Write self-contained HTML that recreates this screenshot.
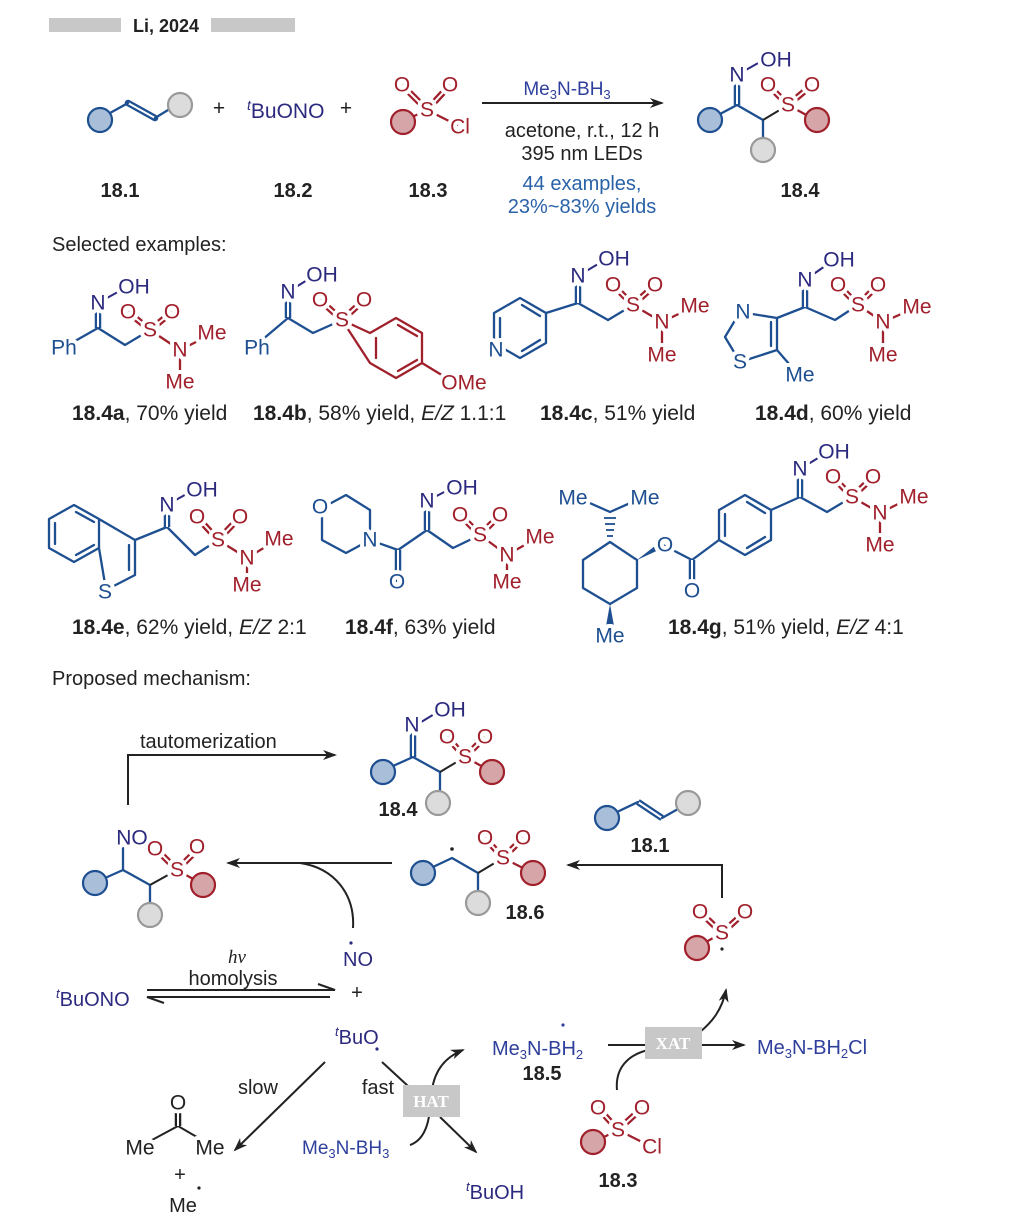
<!DOCTYPE html>
<html><head><meta charset="utf-8"><style>
html,body{margin:0;padding:0;background:#fff}
svg{display:block}
text{font-family:"Liberation Sans",sans-serif}
.a{font-size:21px;text-anchor:middle;dominant-baseline:central;paint-order:stroke;stroke:#fff;stroke-width:8px;stroke-linejoin:round}
.bl{fill:#1d4f91}.rd{fill:#a0202c}.pu{fill:#2c2a7f}.tb{fill:#2f3f9c}
.lab{font-size:20px;fill:#222}
.yl{font-size:21px;fill:#222}
.bold{font-weight:bold}
.B{stroke:#1d4f91;stroke-width:2.3;fill:none;stroke-linecap:round;stroke-linejoin:round}
.R{stroke:#a0202c;stroke-width:2.3;fill:none;stroke-linecap:round;stroke-linejoin:round}
.K{stroke:#222;stroke-width:2;fill:none}
.cb{fill:#a9bed9;stroke:#1d4f91;stroke-width:2.2}
.cr{fill:#d6a5a7;stroke:#a0202c;stroke-width:2.2}
.cg{fill:#dcdcdc;stroke:#999;stroke-width:2.2}
</style></head><body>
<svg width="1036" height="1228" viewBox="0 0 1036 1228" xmlns="http://www.w3.org/2000/svg">
<defs>
<marker id="ah" markerWidth="14" markerHeight="10" refX="12" refY="5" orient="auto" markerUnits="userSpaceOnUse">
<path d="M0,0 L14,5 L0,10 L4,5 Z" fill="#222"/></marker>
</defs>

<!-- header -->
<rect x="49" y="18" width="72" height="14" fill="#c8c8c8"/>
<rect x="211" y="18" width="84" height="14" fill="#c8c8c8"/>
<text x="133" y="32" class="bold" style="font-size:18px;fill:#222">Li, 2024</text>

<!-- 18.1 -->
<line x1="128" y1="103" x2="155" y2="118" stroke="#1d4f91" stroke-width="6.5" stroke-linecap="round"/>
<line x1="128" y1="103" x2="155" y2="118" stroke="#fff" stroke-width="2"/>
<path class="B" d="M110,113 L128,103 M155,118 L168,110"/>
<circle class="cb" cx="100" cy="120" r="12"/>
<circle class="cg" cx="180" cy="105" r="12"/>
<text x="219" y="115" class="lab" style="font-size:21px;text-anchor:middle">+</text>
<text x="247" y="118" class="pu" style="font-size:21px"><tspan font-style="italic" font-size="14" dy="-8">t</tspan><tspan dy="8">BuONO</tspan></text>
<text x="346" y="115" class="lab" style="font-size:21px;text-anchor:middle">+</text>
<!-- 18.3 -->
<g>
<line x1="427" y1="110" x2="402" y2="85" stroke="#a0202c" stroke-width="6.5"/><line x1="427" y1="110" x2="402" y2="85" stroke="#fff" stroke-width="2"/>
<line x1="427" y1="110" x2="450" y2="85" stroke="#a0202c" stroke-width="6.5"/><line x1="427" y1="110" x2="450" y2="85" stroke="#fff" stroke-width="2"/>
<path class="R" d="M410,118 L427,110 L457,125"/>
<circle class="cr" cx="403" cy="122" r="12"/>
<text x="427" y="110" class="a rd">S</text><text x="402" y="85" class="a rd">O</text><text x="450" y="85" class="a rd">O</text><text x="460" y="127" class="a rd">Cl</text>
</g>
<!-- arrow -->
<line x1="482" y1="103" x2="662" y2="103" class="K" marker-end="url(#ah)"/>
<text x="567" y="95" class="tb" style="font-size:19px;text-anchor:middle">Me<tspan font-size="13" dy="4">3</tspan><tspan dy="-4">N-BH</tspan><tspan font-size="13" dy="4">3</tspan></text>
<text x="582" y="137" class="lab" style="text-anchor:middle">acetone, r.t., 12 h</text>
<text x="582" y="160" class="lab" style="text-anchor:middle">395 nm LEDs</text>
<text x="582" y="190" style="font-size:20px;text-anchor:middle;fill:#2a62a8">44 examples,</text>
<text x="582" y="213" style="font-size:20px;text-anchor:middle;fill:#2a62a8">23%~83% yields</text>
<!-- 18.4 product -->
<g>
<line x1="737" y1="105" x2="737" y2="75" stroke="#1d4f91" stroke-width="6.5"/><line x1="737" y1="105" x2="737" y2="75" stroke="#fff" stroke-width="2"/>
<path class="B" d="M720,114 L737,105 L763,120 L763,140"/>
<line x1="763" y1="120" x2="788" y2="105" class="K"/>
<line x1="788" y1="105" x2="768" y2="85" stroke="#a0202c" stroke-width="6.5"/><line x1="788" y1="105" x2="768" y2="85" stroke="#fff" stroke-width="2"/>
<line x1="788" y1="105" x2="812" y2="85" stroke="#a0202c" stroke-width="6.5"/><line x1="788" y1="105" x2="812" y2="85" stroke="#fff" stroke-width="2"/>
<line x1="788" y1="105" x2="810" y2="117" class="R"/>
<line x1="737" y1="75" x2="760" y2="62" stroke="#2c2a7f" stroke-width="2"/>
<circle class="cb" cx="710" cy="120" r="12"/><circle class="cg" cx="763" cy="150" r="12"/><circle class="cr" cx="817" cy="120" r="12"/>
<text x="737" y="75" class="a pu">N</text><text x="776" y="60" class="a pu">OH</text>
<text x="788" y="105" class="a rd">S</text><text x="768" y="85" class="a rd">O</text><text x="812" y="85" class="a rd">O</text>
</g>
<text x="120" y="197" class="lab bold" style="text-anchor:middle">18.1</text>
<text x="293" y="197" class="lab bold" style="text-anchor:middle">18.2</text>
<text x="428" y="197" class="lab bold" style="text-anchor:middle">18.3</text>
<text x="800" y="197" class="lab bold" style="text-anchor:middle">18.4</text>

<text x="52" y="251" class="lab">Selected examples:</text>

<!-- 18.4a -->
<g>
<line x1="98" y1="328" x2="98" y2="303" stroke="#1d4f91" stroke-width="6.5"/><line x1="98" y1="328" x2="98" y2="303" stroke="#fff" stroke-width="2"/>
<path class="B" d="M68,345 L98,328 L125,345 L150,330"/>
<line x1="98" y1="303" x2="125" y2="288" stroke="#2c2a7f" stroke-width="2"/>
<line x1="150" y1="330" x2="128" y2="312" stroke="#a0202c" stroke-width="6.5"/><line x1="150" y1="330" x2="128" y2="312" stroke="#fff" stroke-width="2"/>
<line x1="150" y1="330" x2="172" y2="312" stroke="#a0202c" stroke-width="6.5"/><line x1="150" y1="330" x2="172" y2="312" stroke="#fff" stroke-width="2"/>
<path class="R" d="M150,330 L180,350 L210,335 M180,350 L180,383"/>
<text x="64" y="348" class="a bl">Ph</text><text x="98" y="303" class="a pu">N</text><text x="134" y="287" class="a pu">OH</text>
<text x="150" y="330" class="a rd">S</text><text x="128" y="312" class="a rd">O</text><text x="172" y="312" class="a rd">O</text>
<text x="180" y="350" class="a rd">N</text><text x="212" y="333" class="a rd">Me</text><text x="180" y="382" class="a rd">Me</text>
</g>
<text x="72" y="420" class="yl"><tspan class="bold">18.4a</tspan>, 70% yield</text>

<!-- 18.4b -->
<g>
<line x1="288" y1="318" x2="288" y2="292" stroke="#1d4f91" stroke-width="6.5"/><line x1="288" y1="318" x2="288" y2="292" stroke="#fff" stroke-width="2"/>
<path class="B" d="M262,340 L288,318 L313,333 L342,320"/>
<line x1="288" y1="292" x2="312" y2="277" stroke="#2c2a7f" stroke-width="2"/>
<line x1="342" y1="320" x2="320" y2="300" stroke="#a0202c" stroke-width="6.5"/><line x1="342" y1="320" x2="320" y2="300" stroke="#fff" stroke-width="2"/>
<line x1="342" y1="320" x2="364" y2="300" stroke="#a0202c" stroke-width="6.5"/><line x1="342" y1="320" x2="364" y2="300" stroke="#fff" stroke-width="2"/>
<path class="R" d="M342,320 L370,333 L396,318 L422,333 L422,363 L396,378 L370,363 Z M422,363 L445,377"/>
<path class="R" d="M376,338 L376,358 M398,325 L417,336 M398,371 L417,360"/>
<text x="257" y="348" class="a bl">Ph</text><text x="288" y="292" class="a pu">N</text><text x="322" y="275" class="a pu">OH</text>
<text x="342" y="320" class="a rd">S</text><text x="320" y="300" class="a rd">O</text><text x="364" y="300" class="a rd">O</text>
<text x="464" y="383" class="a rd">OMe</text>
</g>
<text x="253" y="420" class="yl"><tspan class="bold">18.4b</tspan>, 58% yield, <tspan font-style="italic">E/Z</tspan> 1.1:1</text>

<!-- 18.4c -->
<g>
<path class="B" d="M520,298 L546,313 L546,343 L520,358 L494,343 L494,313 Z M546,313 L578,303 L608,320"/>
<path class="B" d="M500,318 L500,338 M522,305 L540,316 M522,351 L540,340"/>
<line x1="578" y1="303" x2="578" y2="276" stroke="#1d4f91" stroke-width="6.5"/><line x1="578" y1="303" x2="578" y2="276" stroke="#fff" stroke-width="2"/>
<line x1="578" y1="276" x2="603" y2="261" stroke="#2c2a7f" stroke-width="2"/>
<path class="B" d="M608,320 L633,305"/>
<line x1="633" y1="305" x2="613" y2="285" stroke="#a0202c" stroke-width="6.5"/><line x1="633" y1="305" x2="613" y2="285" stroke="#fff" stroke-width="2"/>
<line x1="633" y1="305" x2="655" y2="285" stroke="#a0202c" stroke-width="6.5"/><line x1="633" y1="305" x2="655" y2="285" stroke="#fff" stroke-width="2"/>
<path class="R" d="M633,305 L662,322 L693,307 M662,322 L662,355"/>
<text x="496" y="350" class="a bl">N</text>
<text x="578" y="276" class="a pu">N</text><text x="614" y="259" class="a pu">OH</text>
<text x="633" y="305" class="a rd">S</text><text x="613" y="285" class="a rd">O</text><text x="655" y="285" class="a rd">O</text>
<text x="662" y="322" class="a rd">N</text><text x="695" y="306" class="a rd">Me</text><text x="662" y="355" class="a rd">Me</text>
</g>
<text x="540" y="420" class="yl"><tspan class="bold">18.4c</tspan>, 51% yield</text>

<!-- 18.4d -->
<g>
<path class="B" d="M740,312 L725,337 L740,362 L777,350 L777,318 Z M777,318 L805,307 L835,320 L858,305 M777,350 L796,372"/>
<path class="B" d="M771,322 L771,346"/>
<line x1="805" y1="307" x2="805" y2="280" stroke="#1d4f91" stroke-width="6.5"/><line x1="805" y1="307" x2="805" y2="280" stroke="#fff" stroke-width="2"/>
<line x1="805" y1="280" x2="828" y2="264" stroke="#2c2a7f" stroke-width="2"/>
<line x1="858" y1="305" x2="838" y2="285" stroke="#a0202c" stroke-width="6.5"/><line x1="858" y1="305" x2="838" y2="285" stroke="#fff" stroke-width="2"/>
<line x1="858" y1="305" x2="878" y2="285" stroke="#a0202c" stroke-width="6.5"/><line x1="858" y1="305" x2="878" y2="285" stroke="#fff" stroke-width="2"/>
<path class="R" d="M858,305 L883,322 L915,308 M883,322 L883,355"/>
<text x="743" y="312" class="a bl">N</text><text x="740" y="362" class="a bl">S</text><text x="800" y="375" class="a bl">Me</text>
<text x="805" y="280" class="a pu">N</text><text x="839" y="260" class="a pu">OH</text>
<text x="858" y="305" class="a rd">S</text><text x="838" y="285" class="a rd">O</text><text x="878" y="285" class="a rd">O</text>
<text x="883" y="322" class="a rd">N</text><text x="917" y="307" class="a rd">Me</text><text x="883" y="355" class="a rd">Me</text>
</g>
<text x="755" y="420" class="yl"><tspan class="bold">18.4d</tspan>, 60% yield</text>

<!-- 18.4e -->
<g>
<path class="B" d="M74,505 L99,519 L99,548 L74,562 L49,548 L49,519 Z M99,519 L135,540 L135,575 L106,590 L99,548 M135,540 L167,527 L195,555 L218,540"/>
<path class="B" d="M55,523 L55,544 M76,512 L94,522 M76,555 L94,545 M129,545 L129,570"/>
<line x1="167" y1="527" x2="167" y2="505" stroke="#1d4f91" stroke-width="6.5"/><line x1="167" y1="527" x2="167" y2="505" stroke="#fff" stroke-width="2"/>
<line x1="167" y1="505" x2="190" y2="492" stroke="#2c2a7f" stroke-width="2"/>
<line x1="218" y1="540" x2="197" y2="517" stroke="#a0202c" stroke-width="6.5"/><line x1="218" y1="540" x2="197" y2="517" stroke="#fff" stroke-width="2"/>
<line x1="218" y1="540" x2="240" y2="517" stroke="#a0202c" stroke-width="6.5"/><line x1="218" y1="540" x2="240" y2="517" stroke="#fff" stroke-width="2"/>
<path class="R" d="M218,540 L247,558 L277,540 M247,558 L247,585"/>
<text x="105" y="592" class="a bl">S</text>
<text x="167" y="505" class="a pu">N</text><text x="202" y="490" class="a pu">OH</text>
<text x="218" y="540" class="a rd">S</text><text x="197" y="517" class="a rd">O</text><text x="240" y="517" class="a rd">O</text>
<text x="247" y="558" class="a rd">N</text><text x="279" y="539" class="a rd">Me</text><text x="247" y="585" class="a rd">Me</text>
</g>
<text x="72" y="634" class="yl"><tspan class="bold">18.4e</tspan>, 62% yield, <tspan font-style="italic">E/Z</tspan> 2:1</text>

<!-- 18.4f -->
<g>
<path class="B" d="M322,508 L346,495 L370,510 L370,540 L346,553 L322,540 Z M370,540 L398,550 L427,530 L453,548 L480,535"/>
<line x1="398" y1="550" x2="398" y2="582" stroke="#1d4f91" stroke-width="6.5"/><line x1="398" y1="550" x2="398" y2="582" stroke="#fff" stroke-width="2"/>
<line x1="427" y1="530" x2="427" y2="501" stroke="#1d4f91" stroke-width="6.5"/><line x1="427" y1="530" x2="427" y2="501" stroke="#fff" stroke-width="2"/>
<line x1="427" y1="501" x2="450" y2="489" stroke="#2c2a7f" stroke-width="2"/>
<line x1="480" y1="535" x2="460" y2="515" stroke="#a0202c" stroke-width="6.5"/><line x1="480" y1="535" x2="460" y2="515" stroke="#fff" stroke-width="2"/>
<line x1="480" y1="535" x2="500" y2="515" stroke="#a0202c" stroke-width="6.5"/><line x1="480" y1="535" x2="500" y2="515" stroke="#fff" stroke-width="2"/>
<path class="R" d="M480,535 L507,555 L537,538 M507,555 L507,582"/>
<text x="320" y="507" class="a bl">O</text><text x="370" y="540" class="a bl">N</text><text x="397" y="582" class="a bl">O</text>
<text x="427" y="501" class="a pu">N</text><text x="462" y="488" class="a pu">OH</text>
<text x="480" y="535" class="a rd">S</text><text x="460" y="515" class="a rd">O</text><text x="500" y="515" class="a rd">O</text>
<text x="507" y="555" class="a rd">N</text><text x="540" y="537" class="a rd">Me</text><text x="507" y="582" class="a rd">Me</text>
</g>
<text x="345" y="634" class="yl"><tspan class="bold">18.4f</tspan>, 63% yield</text>

<!-- 18.4g -->
<g>
<path class="B" d="M583,500 L610,512 L637,500 M583,560 L610,542 L637,560 L637,588 L610,604 L583,588 Z M663,545 L692,560 L719,540 M719,540 L719,510 L745,495 L771,510 L771,540 L745,555 L719,540 M771,510 L800,497 L827,512 L852,497"/>
<path class="B" d="M725,514 L725,536 M747,502 L765,513 M747,548 L765,537"/>
<g stroke="#1d4f91" stroke-width="1.8"><line x1="604" y1="518" x2="616" y2="518"/><line x1="605" y1="524" x2="615" y2="524"/><line x1="606" y1="530" x2="614" y2="530"/><line x1="607" y1="536" x2="613" y2="536"/></g>
<path d="M637,560 L660,542 L663,548 Z" fill="#1d4f91"/>
<path d="M610,604 L606,626 L614,626 Z" fill="#1d4f91"/>
<line x1="692" y1="560" x2="692" y2="590" stroke="#1d4f91" stroke-width="6.5"/><line x1="692" y1="560" x2="692" y2="590" stroke="#fff" stroke-width="2"/>
<line x1="800" y1="497" x2="800" y2="469" stroke="#1d4f91" stroke-width="6.5"/><line x1="800" y1="497" x2="800" y2="469" stroke="#fff" stroke-width="2"/>
<line x1="800" y1="469" x2="823" y2="455" stroke="#2c2a7f" stroke-width="2"/>
<line x1="852" y1="497" x2="833" y2="477" stroke="#a0202c" stroke-width="6.5"/><line x1="852" y1="497" x2="833" y2="477" stroke="#fff" stroke-width="2"/>
<line x1="852" y1="497" x2="873" y2="477" stroke="#a0202c" stroke-width="6.5"/><line x1="852" y1="497" x2="873" y2="477" stroke="#fff" stroke-width="2"/>
<path class="R" d="M852,497 L880,513 L912,497 M880,513 L880,545"/>
<text x="573" y="498" class="a bl">Me</text><text x="645" y="498" class="a bl">Me</text><text x="610" y="636" class="a bl">Me</text>
<text x="665" y="545" class="a bl">O</text><text x="692" y="591" class="a bl">O</text>
<text x="800" y="469" class="a pu">N</text><text x="834" y="452" class="a pu">OH</text>
<text x="852" y="497" class="a rd">S</text><text x="833" y="477" class="a rd">O</text><text x="873" y="477" class="a rd">O</text>
<text x="880" y="513" class="a rd">N</text><text x="914" y="497" class="a rd">Me</text><text x="880" y="545" class="a rd">Me</text>
</g>
<text x="668" y="634" class="yl"><tspan class="bold">18.4g</tspan>, 51% yield, <tspan font-style="italic">E/Z</tspan> 4:1</text>

<text x="52" y="685" class="lab">Proposed mechanism:</text>

<!-- tautomerization -->
<path class="K" d="M128,805 L128,755 L335,755" marker-end="url(#ah)"/>
<text x="140" y="748" class="lab">tautomerization</text>
<!-- 18.4 in mechanism -->
<g>
<line x1="413" y1="757" x2="413" y2="727" stroke="#1d4f91" stroke-width="6.5"/><line x1="413" y1="757" x2="413" y2="727" stroke="#fff" stroke-width="2"/>
<path class="B" d="M393,766 L413,757 L440,772 L440,792"/>
<line x1="440" y1="772" x2="465" y2="757" class="K"/>
<line x1="465" y1="757" x2="447" y2="737" stroke="#a0202c" stroke-width="6.5"/><line x1="465" y1="757" x2="447" y2="737" stroke="#fff" stroke-width="2"/>
<line x1="465" y1="757" x2="485" y2="737" stroke="#a0202c" stroke-width="6.5"/><line x1="465" y1="757" x2="485" y2="737" stroke="#fff" stroke-width="2"/>
<line x1="465" y1="757" x2="485" y2="768" class="R"/>
<line x1="413" y1="727" x2="436" y2="713" stroke="#2c2a7f" stroke-width="2"/>
<circle class="cb" cx="383" cy="772" r="12"/><circle class="cg" cx="438" cy="803" r="12"/><circle class="cr" cx="492" cy="772" r="12"/>
<text x="412" y="725" class="a pu">N</text><text x="450" y="710" class="a pu">OH</text>
<text x="465" y="757" class="a rd">S</text><text x="447" y="737" class="a rd">O</text><text x="485" y="737" class="a rd">O</text>
</g>
<text x="398" y="816" class="lab bold" style="text-anchor:middle">18.4</text>

<!-- nitroso intermediate -->
<g>
<path class="B" d="M105,878 L123,870 L123,848 M123,870 L150,885 L150,903"/>
<line x1="150" y1="885" x2="177" y2="870" class="K"/>
<line x1="177" y1="870" x2="157" y2="850" stroke="#a0202c" stroke-width="6.5"/><line x1="177" y1="870" x2="157" y2="850" stroke="#fff" stroke-width="2"/>
<line x1="177" y1="870" x2="197" y2="850" stroke="#a0202c" stroke-width="6.5"/><line x1="177" y1="870" x2="197" y2="850" stroke="#fff" stroke-width="2"/>
<line x1="177" y1="870" x2="195" y2="880" class="R"/>
<circle class="cb" cx="95" cy="883" r="12"/><circle class="cg" cx="150" cy="915" r="12"/><circle class="cr" cx="203" cy="885" r="12"/>
<text x="132" y="838" class="a pu">NO</text>
<text x="177" y="870" class="a rd">S</text><text x="155" y="849" class="a rd">O</text><text x="197" y="847" class="a rd">O</text>
</g>
<line x1="392" y1="863" x2="228" y2="863" class="K" marker-end="url(#ah)"/>
<path class="K" d="M353,928 C355,895 335,868 300,863"/>

<!-- 18.6 -->
<g>
<path class="B" d="M433,867 L452,858 L478,873 L478,891"/>
<line x1="478" y1="873" x2="503" y2="858" class="K"/>
<line x1="503" y1="858" x2="485" y2="838" stroke="#a0202c" stroke-width="6.5"/><line x1="503" y1="858" x2="485" y2="838" stroke="#fff" stroke-width="2"/>
<line x1="503" y1="858" x2="523" y2="838" stroke="#a0202c" stroke-width="6.5"/><line x1="503" y1="858" x2="523" y2="838" stroke="#fff" stroke-width="2"/>
<line x1="503" y1="858" x2="523" y2="868" class="R"/>
<circle cx="452" cy="849" r="1.8" fill="#222"/>
<circle class="cb" cx="423" cy="873" r="12"/><circle class="cg" cx="478" cy="903" r="12"/><circle class="cr" cx="533" cy="873" r="12"/>
<text x="503" y="858" class="a rd">S</text><text x="485" y="838" class="a rd">O</text><text x="523" y="838" class="a rd">O</text>
</g>
<text x="525" y="919" class="lab bold" style="text-anchor:middle">18.6</text>

<!-- 18.1 in mechanism -->
<line x1="638" y1="802" x2="662" y2="818" stroke="#1d4f91" stroke-width="6.5"/><line x1="638" y1="802" x2="662" y2="818" stroke="#fff" stroke-width="2"/>
<path class="B" d="M617,812 L638,802 M662,818 L678,809"/>
<circle class="cb" cx="607" cy="818" r="12"/><circle class="cg" cx="688" cy="803" r="12"/>
<text x="650" y="852" class="lab bold" style="text-anchor:middle">18.1</text>
<path class="K" d="M722,898 L722,865 L568,865" marker-end="url(#ah)"/>
<!-- sulfonyl radical -->
<line x1="722" y1="933" x2="700" y2="912" stroke="#a0202c" stroke-width="6.5"/><line x1="722" y1="933" x2="700" y2="912" stroke="#fff" stroke-width="2"/>
<line x1="722" y1="933" x2="745" y2="912" stroke="#a0202c" stroke-width="6.5"/><line x1="722" y1="933" x2="745" y2="912" stroke="#fff" stroke-width="2"/>
<line x1="722" y1="933" x2="706" y2="942" class="R"/>
<circle class="cr" cx="697" cy="948" r="12"/>
<text x="722" y="933" class="a rd">S</text><text x="700" y="912" class="a rd">O</text><text x="745" y="912" class="a rd">O</text>
<circle cx="722" cy="949" r="1.6" fill="#222"/>

<!-- NO radical, homolysis -->
<text x="358" y="966" class="pu" style="font-size:20px;text-anchor:middle">NO</text>
<circle cx="351" cy="943" r="1.6" fill="#2c2a7f"/>
<text x="237" y="963" style="font-family:'Liberation Serif',serif;font-style:italic;font-size:19px;text-anchor:middle;fill:#222">hv</text>
<text x="233" y="985" class="lab" style="text-anchor:middle">homolysis</text>
<text x="56" y="1006" class="pu" style="font-size:20px"><tspan font-style="italic" font-size="13" dy="-8">t</tspan><tspan dy="8">BuONO</tspan></text>
<path d="M147,990 L335,990 L318,984" stroke="#222" stroke-width="2" fill="none"/>
<path d="M330,997 L147,997 L164,1003" stroke="#222" stroke-width="2" fill="none"/>
<text x="357" y="999" class="lab" style="font-size:20px;text-anchor:middle">+</text>
<text x="335" y="1044" class="pu" style="font-size:20px"><tspan font-style="italic" font-size="13" dy="-8">t</tspan><tspan dy="8">BuO</tspan></text>
<circle cx="377" cy="1049" r="1.6" fill="#2c2a7f"/>

<!-- slow -->
<line x1="325" y1="1062" x2="235" y2="1150" class="K" marker-end="url(#ah)"/>
<text x="258" y="1094" class="lab" style="text-anchor:middle">slow</text>
<path class="K" d="M152,1140 L178,1126 L202,1140" style="stroke-width:2"/>
<line x1="178" y1="1126" x2="178" y2="1108" stroke="#222" stroke-width="6.5"/><line x1="178" y1="1126" x2="178" y2="1108" stroke="#fff" stroke-width="2"/>
<text x="178" y="1103" class="a" style="fill:#222">O</text>
<text x="140" y="1148" class="a" style="fill:#222">Me</text>
<text x="210" y="1148" class="a" style="fill:#222">Me</text>
<text x="180" y="1181" class="lab" style="text-anchor:middle">+</text>
<text x="183" y="1212" class="lab" style="text-anchor:middle">Me</text>
<circle cx="199" cy="1188" r="1.6" fill="#222"/>

<!-- fast / HAT -->
<line x1="382" y1="1062" x2="408" y2="1086" class="K"/>
<line x1="440" y1="1117" x2="476" y2="1152" class="K" marker-end="url(#ah)"/>
<text x="378" y="1094" class="lab" style="text-anchor:middle">fast</text>
<path class="K" d="M410,1145 C430,1138 430,1110 432,1090 C435,1068 448,1056 463,1050" marker-end="url(#ah)"/>
<rect x="403" y="1085" width="57" height="32" fill="#c8c8c8"/>
<text x="431" y="1107" style="font-family:'Liberation Serif',serif;font-weight:bold;font-size:17px;fill:#fff;text-anchor:middle">HAT</text>
<text x="302" y="1154" class="tb" style="font-size:19px">Me<tspan font-size="13" dy="4">3</tspan><tspan dy="-4">N-BH</tspan><tspan font-size="13" dy="4">3</tspan></text>
<text x="466" y="1199" class="pu" style="font-size:20px"><tspan font-style="italic" font-size="13" dy="-8">t</tspan><tspan dy="8">BuOH</tspan></text>

<!-- 18.5 / XAT -->
<text x="492" y="1055" class="tb" style="font-size:20px">Me<tspan font-size="13" dy="4">3</tspan><tspan dy="-4">N-BH</tspan><tspan font-size="13" dy="4">2</tspan></text>
<circle cx="563" cy="1025" r="1.6" fill="#2f3f9c"/>
<text x="542" y="1080" class="lab bold" style="text-anchor:middle">18.5</text>
<line x1="608" y1="1045" x2="648" y2="1045" class="K"/>
<line x1="700" y1="1045" x2="744" y2="1045" class="K" marker-end="url(#ah)"/>
<path class="K" d="M617,1090 C615,1068 628,1055 648,1050"/>
<path class="K" d="M700,1032 C712,1022 722,1010 726,990" marker-end="url(#ah)"/>
<rect x="645" y="1027" width="57" height="32" fill="#c8c8c8"/>
<text x="673" y="1049" style="font-family:'Liberation Serif',serif;font-weight:bold;font-size:17px;fill:#fff;text-anchor:middle">XAT</text>
<text x="757" y="1054" class="tb" style="font-size:20px">Me<tspan font-size="13" dy="4">3</tspan><tspan dy="-4">N-BH</tspan><tspan font-size="13" dy="4">2</tspan><tspan dy="-4">Cl</tspan></text>

<!-- 18.3 bottom -->
<line x1="618" y1="1130" x2="598" y2="1108" stroke="#a0202c" stroke-width="6.5"/><line x1="618" y1="1130" x2="598" y2="1108" stroke="#fff" stroke-width="2"/>
<line x1="618" y1="1130" x2="642" y2="1108" stroke="#a0202c" stroke-width="6.5"/><line x1="618" y1="1130" x2="642" y2="1108" stroke="#fff" stroke-width="2"/>
<path class="R" d="M602,1138 L618,1130 L648,1145"/>
<circle class="cr" cx="593" cy="1142" r="12"/>
<text x="618" y="1130" class="a rd">S</text><text x="598" y="1108" class="a rd">O</text><text x="642" y="1108" class="a rd">O</text><text x="652" y="1147" class="a rd">Cl</text>
<text x="618" y="1187" class="lab bold" style="text-anchor:middle">18.3</text>
</svg>
</body></html>
